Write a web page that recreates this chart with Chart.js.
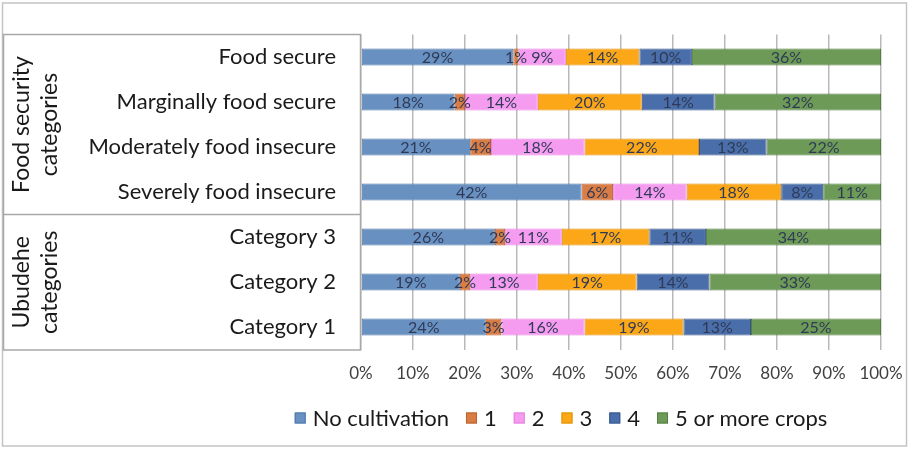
<!DOCTYPE html>
<html>
<head>
<meta charset="utf-8">
<script src="https://cdn.jsdelivr.net/npm/chart.js@4/dist/chart.umd.min.js"></script>
<style>
  html, body { margin: 0; padding: 0; background: #ffffff; }
  #wrap { width: 912px; height: 449px; position: relative; }
</style>
</head>
<body>
<div id="wrap"><canvas id="chart" width="912" height="449"></canvas></div>
<script>
// Row labels, top to bottom
const categories = [
  'Food secure',
  'Marginally food secure',
  'Moderately food insecure',
  'Severely food insecure',
  'Category 3',
  'Category 2',
  'Category 1'
];

// Row groups shown in the framed panel on the left
const groupTitles = [['Food security', 'categories'], ['Ubudehe', 'categories']];
const groupFirstRow = [0, 4];
const groupLastRow = [3, 6];

// Series (number of crops cultivated), share of households in %
const seriesNames = ['No cultivation', '1', '2', '3', '4', '5 or more crops'];
const noCultivation = [29, 18, 21, 42, 26, 19, 24];
const oneCrop       = [1, 2, 4, 6, 2, 2, 3];
const twoCrops      = [9, 14, 18, 14, 11, 13, 16];
const threeCrops    = [14, 20, 22, 18, 17, 19, 19];
const fourCrops     = [10, 14, 13, 8, 11, 14, 13];
const fiveOrMore    = [36, 32, 22, 11, 34, 33, 25];

// Axis ticks (%)
const xTicks = [0, 10, 20, 30, 40, 50, 60, 70, 80, 90, 100];

const seriesValues = [noCultivation, oneCrop, twoCrops, threeCrops, fourCrops, fiveOrMore];
const fillColors   = ['#6890c1', '#da7d45', '#f59cf1', '#fca717', '#4a6ea9', '#6d9a56'];
const edgeColors   = ['#4d76a6', '#b8612f', '#e47fe0', '#e08f06', '#35568c', '#557e40'];

const TEXT_FONT = 'Lato, "Open Sans", sans-serif';

// 100 % stacked bars: each row is drawn as shares of its own total,
// the printed percentages are the rounded values above.
const rowTotals = categories.map((_, j) => seriesValues.reduce((s, arr) => s + arr[j], 0));

const datasets = seriesNames.map((name, i) => ({
  label: name,
  data: seriesValues[i].map((v, j) => v / rowTotals[j] * 100),
  printed: seriesValues[i],
  backgroundColor: fillColors[i],
  borderColor: edgeColors[i],
  borderWidth: 1,
  borderSkipped: false,
  categoryPercentage: 0.76,
  barPercentage: 0.5
}));

// White page with a thin outer frame
const framePlugin = {
  id: 'frame',
  beforeDraw(chart) {
    const { ctx, width, height } = chart;
    ctx.save();
    ctx.fillStyle = '#ffffff';
    ctx.fillRect(0, 0, width, height);
    ctx.strokeStyle = '#c4c4c4';
    ctx.lineWidth = 1.5;
    ctx.strokeRect(2.5, 3, 904, 443);
    ctx.restore();
  }
};

// Framed panel holding the row labels and the rotated group titles
const groupPanelPlugin = {
  id: 'groupPanel',
  afterDraw(chart) {
    const { ctx, chartArea } = chart;
    const y = chart.scales.y;
    const left = 3.5;
    const right = chartArea.left - 0.5;
    const top = chartArea.top;
    const bottom = chartArea.bottom + 0.5;
    const divider = g => (y.getPixelForValue(groupLastRow[g]) + y.getPixelForValue(groupFirstRow[g + 1])) / 2;
    ctx.save();
    ctx.strokeStyle = '#a8a8a8';
    ctx.lineWidth = 1.5;
    ctx.strokeRect(left, top, right - left, bottom - top);
    for (let g = 0; g < groupTitles.length - 1; g++) {
      const yDiv = divider(g);
      ctx.beginPath();
      ctx.moveTo(left, yDiv);
      ctx.lineTo(right, yDiv);
      ctx.stroke();
    }
    // rotated group titles
    ctx.fillStyle = '#1a1a1a';
    ctx.font = '23px ' + TEXT_FONT;
    ctx.textAlign = 'center';
    ctx.textBaseline = 'middle';
    groupTitles.forEach((lines, g) => {
      const yTop = g === 0 ? top : divider(g - 1);
      const yBot = g === groupTitles.length - 1 ? bottom : divider(g);
      const cy = (yTop + yBot) / 2;
      lines.forEach((line, k) => {
        ctx.save();
        ctx.translate(22 + k * 28, cy);
        ctx.rotate(-Math.PI / 2);
        ctx.fillText(line, 0, 0);
        ctx.restore();
      });
    });
    ctx.restore();
  }
};

// Percentage written in the middle of every segment
const segmentLabelPlugin = {
  id: 'segmentLabels',
  afterDatasetsDraw(chart) {
    const { ctx } = chart;
    ctx.save();
    ctx.font = '16px ' + TEXT_FONT;
    ctx.fillStyle = '#2f3a57';
    ctx.textAlign = 'center';
    ctx.textBaseline = 'middle';
    chart.data.datasets.forEach((ds, i) => {
      const meta = chart.getDatasetMeta(i);
      meta.data.forEach((bar, j) => {
        const cx = (bar.x + bar.base) / 2;
        ctx.fillText(ds.printed[j] + '%', cx, bar.y + 1);
      });
    });
    ctx.restore();
  }
};

// Legend row under the axis
const legendRowPlugin = {
  id: 'legendRow',
  afterDraw(chart, args, opts) {
    const { ctx } = chart;
    ctx.save();
    ctx.font = '22px ' + TEXT_FONT;
    ctx.textBaseline = 'middle';
    const box = 11, gap = 7, spacing = 17;
    const widths = chart.data.datasets.map(ds => box + gap + ctx.measureText(ds.label).width);
    const total = widths.reduce((a, b) => a + b, 0) + spacing * (widths.length - 1);
    let x = opts.centerX - total / 2;
    const cy = opts.centerY;
    chart.data.datasets.forEach((ds, i) => {
      ctx.fillStyle = ds.backgroundColor;
      ctx.fillRect(x, cy - box / 2, box, box);
      ctx.strokeStyle = ds.borderColor;
      ctx.lineWidth = 1;
      ctx.strokeRect(x + 0.5, cy - box / 2 + 0.5, box - 1, box - 1);
      ctx.fillStyle = '#1a1a1a';
      ctx.textAlign = 'left';
      ctx.fillText(ds.label, x + box + gap, cy + 1);
      x += widths[i] + spacing;
    });
    ctx.restore();
  }
};

new Chart(document.getElementById('chart'), {
  type: 'bar',
  data: { labels: categories, datasets },
  plugins: [framePlugin, groupPanelPlugin, segmentLabelPlugin, legendRowPlugin],
  options: {
    indexAxis: 'y',
    responsive: false,
    animation: false,
    devicePixelRatio: 1,
    layout: { padding: { top: 34.5, right: 31, bottom: 0, left: 0 } },
    scales: {
      x: {
        stacked: true,
        min: 0,
        max: 100,
        afterBuildTicks(scale) { scale.ticks = xTicks.map(v => ({ value: v })); },
        afterFit(scale) {
          scale.height = 99.5;
          scale.paddingLeft = 0;
          scale.paddingRight = 0;
        },
        ticks: {
          padding: 14,
          autoSkip: false,
          maxRotation: 0,
          color: '#404040',
          font: { family: TEXT_FONT, size: 17 },
          callback: v => v + '%'
        },
        grid: { color: '#b9b9b9', lineWidth: 1.5, drawTicks: false },
        border: { display: false }
      },
      y: {
        stacked: true,
        afterFit(scale) {
          scale.width = 361;
          scale.paddingTop = 0;
          scale.paddingBottom = 0;
        },
        ticks: {
          padding: 25,
          color: '#1a1a1a',
          font: { family: TEXT_FONT, size: 22 }
        },
        grid: { display: false, drawTicks: false },
        border: { display: false }
      }
    },
    plugins: {
      legend: { display: false },
      tooltip: { enabled: false },
      legendRow: { centerX: 561, centerY: 418 }
    }
  }
});
</script>
</body>
</html>
